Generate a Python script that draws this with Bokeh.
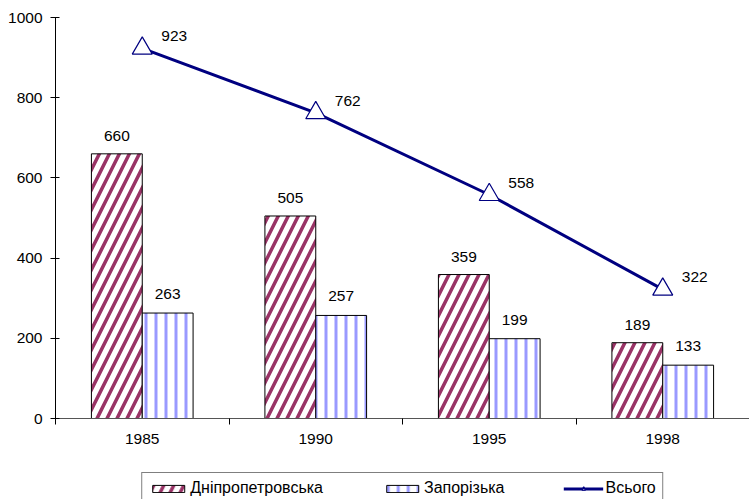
from bokeh.plotting import figure
from bokeh.layouts import column
from bokeh.models import Range1d, FixedTicker, Legend, LegendItem, ColumnDataSource
from bokeh.core.properties import value
from bokeh.embed import file_html
from bokeh.resources import INLINE

years = ["1985", "1990", "1995", "1998"]
dnipro = [660, 505, 359, 189]
zapor = [263, 257, 199, 133]
total = [923, 762, 558, 322]
y_ticks = [0, 200, 400, 600, 800, 1000]
series_names = ["Дніпропетровська", "Запорізька", "Всього"]

FONT = "Liberation Sans"
FS = "15.5px"
BW = 0.293
OFF = 0.1465

DN_STYLE = dict(fill_color="white", line_color="black", line_width=1,
                hatch_pattern="/", hatch_color="#993366", hatch_weight=3.5, hatch_scale=20)
ZP_STYLE = dict(fill_color="white", line_color="black", line_width=1,
                hatch_pattern="|", hatch_color="#9999FF", hatch_weight=3, hatch_scale=10)
LN_STYLE = dict(line_color="#000080", line_width=3)
MK_STYLE = dict(marker="triangle", size=20, fill_color="white", line_color="#000080", line_width=1.2)

xc = [i + 0.5 for i in range(len(years))]
src = ColumnDataSource(dict(
    xc=xc,
    xd=[x - OFF for x in xc],
    xz=[x + OFF for x in xc],
    dn=dnipro, zp=zapor, tot=total,
    dn_t=[str(v) for v in dnipro],
    zp_t=[str(v) for v in zapor],
    tot_t=[str(v) for v in total],
))

p = figure(width=749, height=460, output_backend="svg", toolbar_location=None,
           x_range=Range1d(0, len(years)), y_range=Range1d(0, 1000),
           min_border_left=55, min_border_right=0, min_border_top=17, min_border_bottom=42)
p.outline_line_color = None
p.xgrid.visible = False
p.ygrid.visible = False

p.vbar(x="xd", top="dn", width=BW, source=src, **DN_STYLE)
p.vbar(x="xz", top="zp", width=BW, source=src, **ZP_STYLE)
p.line(x="xc", y="tot", source=src, **LN_STYLE)
p.scatter(x="xc", y="tot", source=src, **MK_STYLE)

common = dict(text_font=value(FONT), text_font_size=value(FS), text_color="black",
              text_align="center", text_baseline="middle", source=src)
p.text(x="xd", y="dn", text="dn_t", y_offset=-18, **common)
p.text(x="xz", y="zp", text="zp_t", y_offset=-19, **common)
p.text(x="xc", y="tot", text="tot_t", x_offset=32, y_offset=-12, **common)

# axes
p.xaxis.ticker = FixedTicker(ticks=xc, minor_ticks=list(range(len(years) + 1)))
p.xaxis.major_label_overrides = {x: y for x, y in zip(xc, years)}
p.xaxis.major_tick_line_color = None
p.xaxis.major_tick_out = 6
p.xaxis.minor_tick_in = 0
p.xaxis.minor_tick_out = 6
p.xaxis.minor_tick_line_color = "black"
p.xaxis.axis_line_color = "#555555"
p.xaxis.major_label_standoff = 9

p.yaxis.ticker = FixedTicker(ticks=y_ticks, minor_ticks=[])
p.yaxis.major_tick_in = 4
p.yaxis.major_tick_out = 5
p.yaxis.major_label_standoff = 8
p.yaxis.axis_line_color = "black"
p.yaxis.major_tick_line_color = "black"

for ax in (p.xaxis, p.yaxis):
    ax.major_label_text_font = FONT
    ax.major_label_text_font_size = FS
    ax.major_label_text_color = "black"

# legend strip (separate figure below the chart); its renderers use the same
# data but lie outside this strip's ranges, so only the legend is visible
lg = figure(width=749, height=39, output_backend="svg", toolbar_location=None,
            min_border_left=55, min_border_right=0, min_border_top=0, min_border_bottom=0,
            x_range=Range1d(-20, -10), y_range=Range1d(-20, -10))
lg.axis.visible = False
lg.grid.visible = False
lg.outline_line_color = None
g1 = lg.vbar(x="xd", top="dn", width=BW, source=src, **DN_STYLE)
g2 = lg.vbar(x="xz", top="zp", width=BW, source=src, **ZP_STYLE)
g3 = lg.line(x="xc", y="tot", source=src, **LN_STYLE)
g4 = lg.scatter(x="xc", y="tot", source=src, **dict(MK_STYLE, size=11))

legend = Legend(items=[
    LegendItem(label=series_names[0], renderers=[g1]),
    LegendItem(label=series_names[1], renderers=[g2]),
    LegendItem(label=series_names[2], renderers=[g3, g4]),
], orientation="horizontal", location="top_center")
legend.label_text_font = FONT
legend.label_text_font_size = "16px"
legend.label_text_color = "black"
legend.border_line_color = "black"
legend.border_line_width = 1
legend.glyph_width = 40
legend.glyph_height = 9
legend.label_standoff = 2
legend.spacing = 59
legend.padding = 6
legend.margin = 12
legend.label_height = 14
legend.background_fill_alpha = 1
lg.add_layout(legend, "center")

open("out.html", "w").write(file_html(column(p, lg, spacing=0), INLINE))
